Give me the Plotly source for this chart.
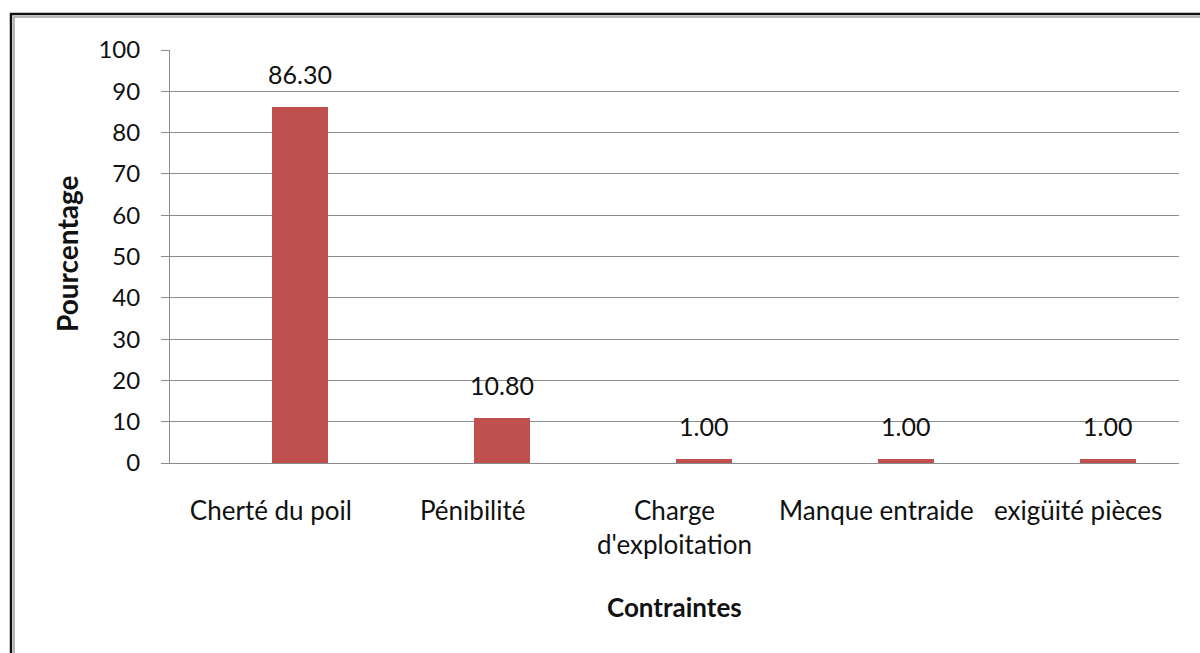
import plotly.graph_objects as go

# Contraintes citées et leur part en pourcentage
categories = ["Cherté du poil", "Pénibilité", "Charge<br>d'exploitation",
              "Manque entraide", "exigüité pièces"]
values = [86.30, 10.80, 1.00, 1.00, 1.00]
y_ticks = list(range(0, 101, 10))

W, H = 1200, 653
L, R, T, B = 170, 21, 50, 190
pw, ph = W - L - R, H - T - B

def px_x(px):
    return (px - L) / pw

def px_y(py):
    return (H - B - py) / ph

FONT = "Lato"
BAR = "#C0504D"
GRID = "#8c8c8c"

bar_width = 0.278
bar_offset = 0.007

fig = go.Figure()
fig.add_trace(go.Bar(
    x=categories, y=values,
    width=bar_width, offset=bar_offset,
    marker=dict(color=BAR, line=dict(width=0)),
    hoverinfo="x+y",
))

cat_px = pw / len(categories)
annotations = []
for c, v in zip(categories, values):
    annotations.append(dict(
        x=c, y=v, xref="x", yref="y",
        text=f"{v:.2f}", showarrow=False,
        xanchor="center", yanchor="middle",
        xshift=(bar_offset + bar_width / 2) * cat_px, yshift=33,
        font=dict(family=FONT, size=25, color="#111"),
    ))

annotations.append(dict(
    x=0.5, y=px_y(607), xref="paper", yref="paper",
    text="<b>Contraintes</b>", showarrow=False,
    xanchor="center", yanchor="middle",
    font=dict(family=FONT, size=26, color="#111"),
))
annotations.append(dict(
    x=px_x(67), y=px_y(254), xref="paper", yref="paper",
    text="<b>Pourcentage</b>", showarrow=False, textangle=-90,
    xanchor="center", yanchor="middle",
    font=dict(family=FONT, size=28, color="#111"),
))

# double border around the chart frame
shapes = [
    dict(type="rect", xref="paper", yref="paper",
         x0=px_x(11), x1=px_x(1215), y0=px_y(670), y1=px_y(14),
         line=dict(color="#111", width=2.5), layer="above"),
    dict(type="rect", xref="paper", yref="paper",
         x0=px_x(14), x1=px_x(1215), y0=px_y(670), y1=px_y(17),
         line=dict(color="#a0a0a0", width=1.5), layer="above"),
]

fig.update_layout(
    width=W, height=H,
    margin=dict(l=L, r=R, t=T, b=B, autoexpand=False),
    paper_bgcolor="white", plot_bgcolor="white",
    showlegend=False, bargap=0,
    font=dict(family=FONT, size=24, color="#111"),
    annotations=annotations, shapes=shapes,
    xaxis=dict(
        type="category", showgrid=False, ticks="",
        showline=True, linecolor=GRID, linewidth=1,
        tickfont=dict(family=FONT, size=26, color="#111"),
        ticklabelstandoff=25,
        fixedrange=True,
    ),
    yaxis=dict(
        range=[0, 100], tickvals=y_ticks, ticktext=[str(t) for t in y_ticks],
        showgrid=True, gridcolor=GRID, gridwidth=1,
        zeroline=False, showline=True, linecolor=GRID, linewidth=1,
        ticks="outside", ticklen=8, tickcolor=GRID,
        ticklabelstandoff=16,
        tickfont=dict(family=FONT, size=24, color="#111"),
        fixedrange=True,
    ),
)

fig.write_html("out.html")
